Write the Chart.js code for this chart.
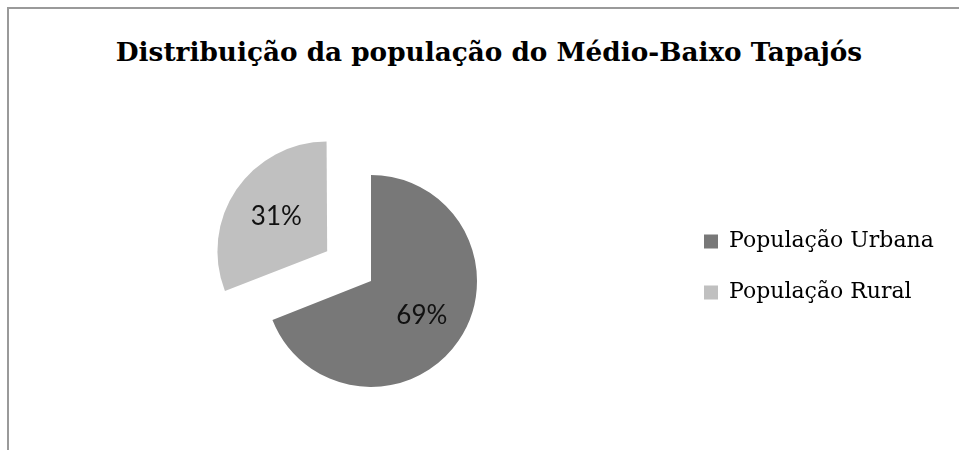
<!DOCTYPE html>
<html>
<head>
<meta charset="utf-8">
<script src="https://cdn.jsdelivr.net/npm/chart.js@4.4.0/dist/chart.umd.min.js"></script>
<style>
  body { margin: 0; background: #fff; overflow: hidden; }
  .frame {
    position: absolute; left: 7px; top: 7px; width: 1000px; height: 500px;
    border-top: 2px solid #9a9a9a; border-left: 2px solid #9a9a9a;
  }
  .title {
    position: absolute; left: 0; top: 36px; width: 978px; text-align: center;
    font: bold 26.3px "DejaVu Serif"; color: #000; white-space: nowrap;
  }
  canvas { position: absolute; left: 0; top: 0; }
</style>
</head>
<body>
<div class="frame"></div>
<div class="title">Distribuição da população do Médio-Baixo Tapajós</div>
<canvas id="pie" width="959" height="450"></canvas>
<script>
// dados
const categorias = ['População Urbana', 'População Rural'];
const valores = [69, 31];
const cores = ['#787878', '#c0c0c0'];
const destaque = [0, 212]; // fatia rural separada

const legendFont = { family: 'DejaVu Serif', size: 22 };
const legendPad = 29;
const boxW = 14;

// largura da legenda para deixar a pizza no lugar
const mctx = document.createElement('canvas').getContext('2d');
mctx.font = legendFont.size + 'px "' + legendFont.family + '"';
let textW = 0;
categorias.forEach(function (c) { textW = Math.max(textW, mctx.measureText(c).width); });
const legendLeft = 675;
// chart.js soma 10px na largura da legenda vertical
const padRight = 959 - legendLeft - (legendPad + boxW + legendFont.size / 2 + textW + 10);

const total = valores.reduce((a, b) => a + b, 0);

const rotulos = {
  id: 'rotulos',
  afterDatasetsDraw(chart) {
    const ctx = chart.ctx;
    const meta = chart.getDatasetMeta(0);
    ctx.save();
    ctx.font = '26px Lato';
    ctx.fillStyle = '#111';
    ctx.textAlign = 'center';
    ctx.textBaseline = 'middle';
    meta.data.forEach(function (arc, i) {
      const p = arc.getProps(['x', 'y', 'startAngle', 'endAngle', 'outerRadius']);
      const mid = (p.startAngle + p.endAngle) / 2;
      const d = (arc.options.offset || 0) / 4 + p.outerRadius * 0.58;
      const txt = Math.round(valores[i] / total * 100) + '%';
      ctx.fillText(txt, p.x + Math.cos(mid) * d, p.y + Math.sin(mid) * d);
    });
    ctx.restore();
  }
};

new Chart(document.getElementById('pie'), {
  type: 'pie',
  data: {
    labels: categorias,
    datasets: [{
      data: valores,
      backgroundColor: cores,
      borderWidth: 0,
      offset: destaque,
      radius: 106,
      clip: false
    }]
  },
  options: {
    responsive: false,
    animation: false,
    events: [],
    layout: { padding: { left: 67, right: padRight, top: 112, bottom: 0 } },
    plugins: {
      legend: {
        position: 'right',
        align: 'start',
        // titulo vazio so para descer os itens
        title: { display: true, text: '', font: { size: 10 }, padding: { top: 77.5, bottom: 0 } },
        labels: {
          boxWidth: boxW,
          boxHeight: 14,
          padding: legendPad,
          color: '#000',
          font: legendFont
        }
      },
      tooltip: { enabled: false }
    }
  },
  plugins: [rotulos]
});
</script>
</body>
</html>
